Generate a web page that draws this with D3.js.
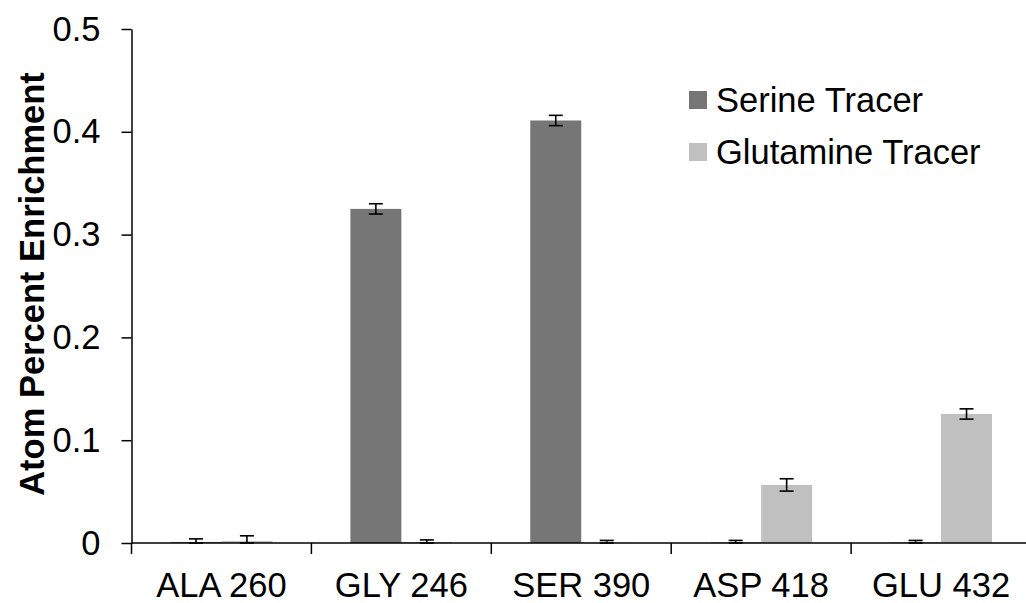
<!DOCTYPE html>
<html>
<head>
<meta charset="utf-8">
<script src="https://cdn.jsdelivr.net/npm/d3@7"></script>
<style>
  html, body { margin: 0; padding: 0; background: #fff; }
  svg { display: block; font-family: "Liberation Sans", Arial, sans-serif; }
</style>
</head>
<body>
<svg id="chart" width="1026" height="603"></svg>
<script>
// Fragment categories (x axis)
const categories = ["ALA 260", "GLY 246", "SER 390", "ASP 418", "GLU 432"];
// Tracer series
const seriesNames = ["Serine Tracer", "Glutamine Tracer"];
const serineValues = [0.001, 0.325, 0.411, 0.0005, 0.0005];
const serineErrors = [0.003, 0.005, 0.005, 0.002, 0.002];
const glutamineValues = [0.002, 0.001, 0.0005, 0.0565, 0.1255];
const glutamineErrors = [0.005, 0.002, 0.002, 0.006, 0.005];
const yTicks = [0, 0.1, 0.2, 0.3, 0.4, 0.5];
const yTickLabels = ["0", "0.1", "0.2", "0.3", "0.4", "0.5"];
const seriesColors = ["#767676", "#c0c0c0"];

const svg = d3.select("#chart");

const x = d3.scaleBand().domain(categories).range([131.5, 1031]).paddingInner(0).paddingOuter(0);
const xInner = d3.scaleBand().domain(seriesNames).range([0, x.bandwidth()]).paddingInner(0).paddingOuter(0.765);
const y = d3.scaleLinear().domain([0, 0.5]).range([543, 29]);

const series = [
  { name: seriesNames[0], values: serineValues, errors: serineErrors, color: seriesColors[0] },
  { name: seriesNames[1], values: glutamineValues, errors: glutamineErrors, color: seriesColors[1] }
];

const rows = [];
series.forEach(s => categories.forEach((c, i) => rows.push({ cat: c, series: s.name, value: s.values[i], err: s.errors[i], color: s.color })));

// Bars
svg.append("g").selectAll("rect").data(rows).join("rect")
  .attr("x", d => x(d.cat) + xInner(d.series))
  .attr("width", xInner.bandwidth())
  .attr("y", d => y(d.value))
  .attr("height", d => y(0) - y(d.value))
  .attr("fill", d => d.color);

// Error bars
const capHalf = 7;
const eg = svg.append("g").attr("stroke", "#000").attr("stroke-width", 1.6).attr("fill", "none");
rows.forEach(d => {
  const cx = x(d.cat) + xInner(d.series) + xInner.bandwidth() / 2;
  const hi = y(d.value + d.err), lo = y(Math.max(0, d.value - d.err));
  eg.append("line").attr("x1", cx).attr("x2", cx).attr("y1", hi).attr("y2", lo);
  eg.append("line").attr("x1", cx - capHalf).attr("x2", cx + capHalf).attr("y1", hi).attr("y2", hi);
  eg.append("line").attr("x1", cx - capHalf).attr("x2", cx + capHalf).attr("y1", lo).attr("y2", lo);
});

// Y axis
const yAxis = d3.axisLeft(y).tickValues(yTicks).tickFormat((d, i) => yTickLabels[i]).tickSize(10).tickSizeOuter(0).tickPadding(21);
const yg = svg.append("g").attr("transform", "translate(131.5,0)").call(yAxis);
yg.select(".domain").attr("stroke", "#000").attr("stroke-width", 1.5);
yg.selectAll(".tick line").attr("stroke", "#000").attr("stroke-width", 1.5);
yg.selectAll(".tick text").attr("font-size", 34.5).attr("fill", "#000").attr("font-family", "Liberation Sans, Arial, sans-serif");

// X axis: ticks at category boundaries
const boundaries = categories.map(c => x(c)).concat([x(categories[categories.length - 1]) + x.bandwidth()]);
const xg = svg.append("g").attr("stroke", "#000").attr("stroke-width", 1.5);
xg.append("line").attr("x1", x.range()[0]).attr("x2", x.range()[1]).attr("y1", y(0)).attr("y2", y(0));
boundaries.forEach(b => xg.append("line").attr("x1", b).attr("x2", b).attr("y1", y(0)).attr("y2", y(0) + 11));
svg.append("g").selectAll("text").data(categories).join("text")
  .attr("x", d => x(d) + x.bandwidth() / 2)
  .attr("y", 597)
  .attr("text-anchor", "middle")
  .attr("font-size", 34.5)
  .attr("fill", "#000")
  .text(d => d);

// Y axis title
svg.append("text")
  .attr("transform", "translate(44,284) rotate(-90)")
  .attr("text-anchor", "middle")
  .attr("font-size", 34.5)
  .attr("font-weight", "bold")
  .attr("fill", "#000")
  .text("Atom Percent Enrichment");

// Legend
const legend = svg.append("g");
series.forEach((s, i) => {
  const ly = 100 + i * 52;
  legend.append("rect").attr("x", 689).attr("y", ly - 9).attr("width", 18).attr("height", 18).attr("fill", s.color);
  legend.append("text").attr("x", 716).attr("y", ly + 12).attr("font-size", 34.5).attr("fill", "#000").text(s.name);
});
</script>
</body>
</html>
